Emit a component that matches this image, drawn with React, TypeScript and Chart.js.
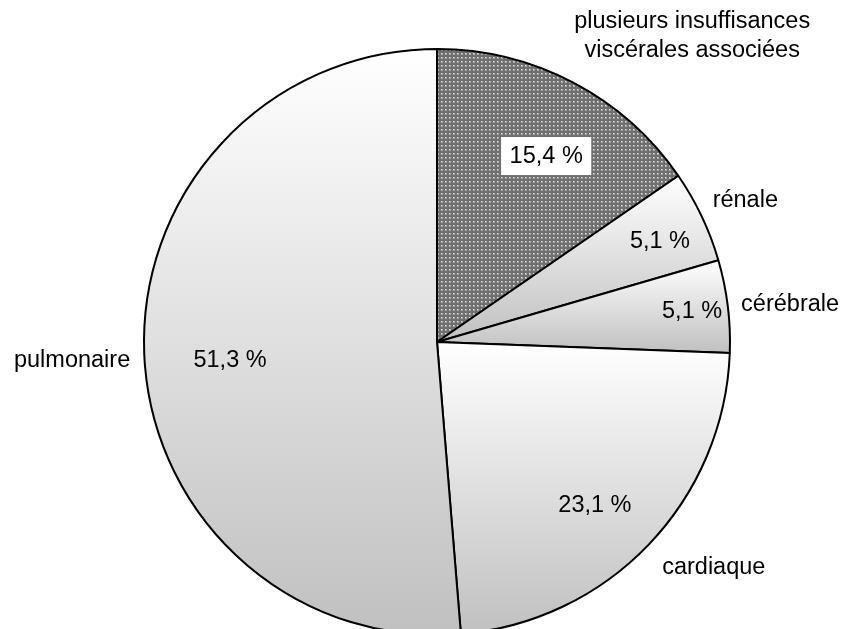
import React, { useEffect, useRef } from "react";
import { Chart, registerables } from "chart.js";

Chart.register(...registerables);

// ---- data ----
const categories = [
  "plusieurs insuffisances\nviscérales associées",
  "rénale",
  "cérébrale",
  "cardiaque",
  "pulmonaire",
];
const values = [15.4, 5.1, 5.1, 23.1, 51.3];
const valueLabels = ["15,4 %", "5,1 %", "5,1 %", "23,1 %", "51,3 %"];

// ---- label layout: [angle offset from slice middle (deg), radius fraction] ----
const pctLayout = [
  [2.7, 0.736],
  [1.2, 0.834],
  [0.1, 0.877],
  [2.2, 0.775],
  [-2.7, 0.709],
];
const catLayout = [
  [12.1, 1.36],
  [0.7, 1.158],
  [0.9, 1.212],
  [-4.6, 1.218],
  [-0.5, 1.247],
];

const RADIUS = 293;
const FONT = '23.5px "Liberation Sans", Arial, sans-serif';

function makePattern(): CanvasPattern | string {
  const c = document.createElement("canvas");
  c.width = 4;
  c.height = 4;
  const g = c.getContext("2d");
  if (!g) return "#8a8a8a";
  g.fillStyle = "#6f6f6f";
  g.fillRect(0, 0, 4, 4);
  g.fillStyle = "#a9a9a9";
  g.fillRect(1, 1, 2, 2);
  g.fillStyle = "#e6e6e6";
  g.fillRect(1, 1, 1, 1);
  const p = g.createPattern(c, "repeat");
  return p || "#8a8a8a";
}

function angleIn(a0: number, a1: number, a: number) {
  const TWO = Math.PI * 2;
  let t = a;
  while (t < a0) t += TWO;
  return t <= a1;
}

const labelPlugin = {
  id: "sliceLabels",
  afterDatasetsDraw(chart: any) {
    const ctx = chart.ctx;
    const meta = chart.getDatasetMeta(0);
    ctx.save();
    ctx.font = FONT;
    ctx.textAlign = "center";
    ctx.textBaseline = "middle";
    meta.data.forEach((arc: any, i: number) => {
      const { x, y, startAngle, endAngle, outerRadius } = arc.getProps(
        ["x", "y", "startAngle", "endAngle", "outerRadius"],
        true
      );
      const mid = (startAngle + endAngle) / 2;
      const place = (lay: number[]) => {
        const a = mid + (lay[0] * Math.PI) / 180;
        const r = outerRadius * lay[1];
        return [x + Math.cos(a) * r, y + Math.sin(a) * r];
      };
      const [px, py] = place(pctLayout[i]);
      if (i === 0) {
        const w = ctx.measureText(valueLabels[i]).width + 17;
        ctx.fillStyle = "#ffffff";
        ctx.fillRect(px - w / 2, py - 19, w, 38);
      }
      ctx.fillStyle = "#000000";
      ctx.fillText(valueLabels[i], px, py);
      const [lx, ly] = place(catLayout[i]);
      const lines = categories[i].split("\n");
      lines.forEach((l, k) => {
        ctx.fillText(l, lx, ly + (k - (lines.length - 1) / 2) * 29);
      });
    });
    ctx.restore();
  },
};

export default function App() {
  const ref = useRef<HTMLCanvasElement>(null);

  useEffect(() => {
    const canvas = ref.current;
    if (!canvas) return;
    const pattern = makePattern();
    const total = values.reduce((s, v) => s + v, 0);

    const bg = (c: any) => {
      if (c.type !== "data") return "#dddddd";
      const i = c.dataIndex;
      if (i === 0) return pattern;
      const chart = c.chart;
      const area = chart.chartArea;
      if (!area) return "#dddddd";
      const cx = (area.left + area.right) / 2;
      const cy = (area.top + area.bottom) / 2;
      let acc = 0;
      for (let k = 0; k < i; k++) acc += values[k];
      const a0 = -Math.PI / 2 + (acc / total) * Math.PI * 2;
      const a1 = a0 + (values[i] / total) * Math.PI * 2;
      const ys = [cy, cy + RADIUS * Math.sin(a0), cy + RADIUS * Math.sin(a1)];
      if (angleIn(a0, a1, Math.PI / 2)) ys.push(cy + RADIUS);
      if (angleIn(a0, a1, -Math.PI / 2)) ys.push(cy - RADIUS);
      const minY = Math.min(...ys);
      const maxY = Math.max(...ys);
      const grad = chart.ctx.createLinearGradient(0, minY, 0, maxY);
      grad.addColorStop(0, "#ffffff");
      grad.addColorStop(1, "#c0c0c0");
      return grad;
    };

    const chart = new Chart(canvas, {
      type: "pie",
      data: {
        labels: categories,
        datasets: [
          {
            data: values,
            backgroundColor: bg,
            borderColor: "#000000",
            borderWidth: 2,
            radius: RADIUS,
          } as any,
        ],
      },
      options: {
        responsive: false,
        animation: false,
        events: [],
        layout: { padding: { left: 31, right: 0, top: 0, bottom: 0 } },
        plugins: {
          legend: { display: false },
          tooltip: { enabled: false },
          title: { display: false },
        },
      },
      plugins: [labelPlugin],
    });

    return () => chart.destroy();
  }, []);

  return (
    <div
      style={{
        position: "fixed",
        left: 0,
        top: 0,
        width: 843,
        height: 684,
        background: "#ffffff",
      }}
    >
      <canvas ref={ref} width={843} height={684} style={{ display: "block" }} />
    </div>
  );
}
